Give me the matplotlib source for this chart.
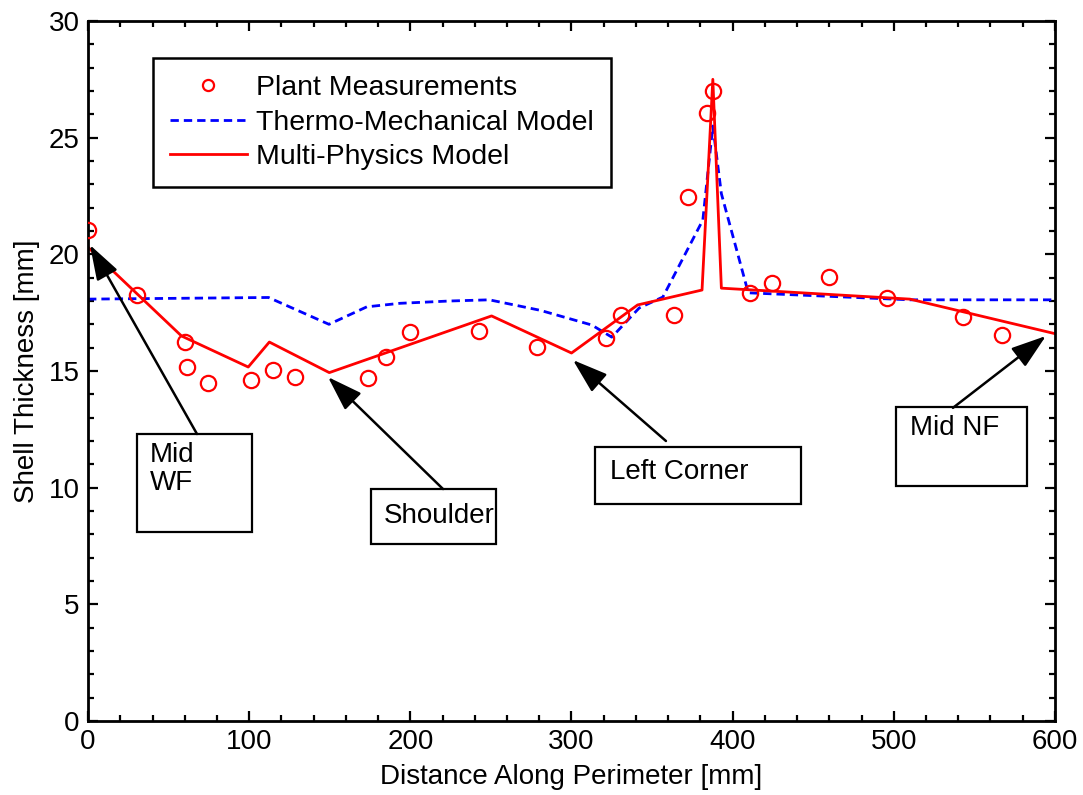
import matplotlib
matplotlib.use("Agg")
import matplotlib.pyplot as plt
from matplotlib.patches import Rectangle
from matplotlib.ticker import MultipleLocator

plt.rcParams["font.family"] = ["Liberation Sans", "DejaVu Sans"]

# Medições da planta
meas_x = [0, 30.4, 60.2, 61.2, 74.4, 101, 114.6, 128.4, 173.7, 185, 199.5, 242.3,
          278.5, 321.5, 330.5, 363.5, 372, 384, 387.7, 410.5, 424.2, 460, 495.5,
          542.8, 567]
meas_y = [21.05, 18.26, 16.24, 15.15, 14.47, 14.63, 15.04, 14.74, 14.7, 15.6, 16.69,
          16.7, 16.03, 16.4, 17.4, 17.38, 22.46, 26.05, 27.0, 18.35, 18.77, 19.03,
          18.13, 17.3, 16.55]

# Modelo termo-mecânico
tm_x = [0, 112, 149.5, 173, 193.5, 224.6, 249, 280.6, 312.6, 325, 342, 356.7,
        381.5, 387.7, 393, 409.7, 510, 600]
tm_y = [18.08, 18.15, 17.0, 17.75, 17.9, 18.0, 18.05, 17.6, 16.97, 16.45, 17.7,
        18.17, 21.47, 25.5, 22.6, 18.35, 18.05, 18.05]

# Modelo multi-física
mp_x = [0, 58, 99.4, 112.5, 149.7, 250.4, 300, 341, 381, 387.7, 393, 510, 600]
mp_y = [20.3, 16.5, 15.17, 16.24, 14.93, 17.36, 15.77, 17.83, 18.47, 27.5, 18.55,
        18.08, 16.6]

# Anotações: texto, ponta da seta, origem da seta, caixa (x0, y0, x1, y1)
ann_text = ["Mid\nWF", "Shoulder", "Left Corner", "Mid NF"]
ann_tip = [(1.2, 20.4), (148.9, 14.74), (300.9, 15.47), (594.4, 16.5)]
ann_from = [(67.6, 12.3), (220.3, 9.94), (358.6, 12.0), (536.7, 13.42)]
ann_box = [(30.4, 8.1, 101.8, 12.3), (175.6, 7.59, 253.2, 9.94),
           (314.6, 9.3, 442.4, 11.74), (501.3, 10.07, 582.6, 13.46)]
ann_txt_pos = [(38.5, 11.95, "top"), (183.7, 8.8, "center"),
               (323.9, 10.65, "center"), (510.0, 12.55, "center")]

fig = plt.figure(figsize=(10.83, 7.95), dpi=100)
ax = fig.add_axes([0.0813, 0.0931, 0.8928, 0.8805])

ax.plot(meas_x, meas_y, "o", color="red", mfc="none", ms=11, mew=1.6,
        label="Plant Measurements", zorder=3)
ax.plot(tm_x, tm_y, color="blue", ls=(0, (3, 1.8)), lw=2.0,
        label="Thermo-Mechanical Model", zorder=2)
ax.plot(mp_x, mp_y, color="red", lw=2.0, label="Multi-Physics Model", zorder=2)

for i in range(len(ann_text)):
    x0, y0, x1, y1 = ann_box[i]
    ax.add_patch(Rectangle((x0, y0), x1 - x0, y1 - y0, fill=False,
                           ec="black", lw=1.6, zorder=4))
    tx, ty, va = ann_txt_pos[i]
    ax.text(tx, ty, ann_text[i], fontsize=20, ha="left", va=va,
            linespacing=1.1, zorder=5)
    ax.annotate("", xy=ann_tip[i], xytext=ann_from[i],
                arrowprops=dict(arrowstyle="-|>,head_length=0.9,head_width=0.3",
                                mutation_scale=24, lw=1.8, color="black",
                                shrinkA=0, shrinkB=0), zorder=5)

ax.set_xlim(0, 600)
ax.set_ylim(0, 30)
ax.xaxis.set_major_locator(MultipleLocator(100))
ax.xaxis.set_minor_locator(MultipleLocator(20))
ax.yaxis.set_major_locator(MultipleLocator(5))
ax.yaxis.set_minor_locator(MultipleLocator(1))
ax.tick_params(which="both", direction="in", top=True, right=True,
               labelsize=20, width=1.6, pad=6)
ax.tick_params(which="major", length=7)
ax.tick_params(which="minor", length=4)
for s in ax.spines.values():
    s.set_linewidth(2)

ax.set_xlabel("Distance Along Perimeter [mm]", fontsize=20, labelpad=6)
ax.set_ylabel("Shell Thickness [mm]", fontsize=20, labelpad=6)

leg = ax.legend(loc="upper left", bbox_to_anchor=(0.067, 0.947), fontsize=20.5,
                frameon=True, fancybox=False, edgecolor="black", framealpha=1,
                handlelength=2.7, borderpad=0.6, labelspacing=0.3,
                handletextpad=0.32, borderaxespad=0)
leg.get_frame().set_linewidth(1.8)
for h in leg.legend_handles[:1]:
    h.set_markersize(8)

fig.savefig("out.png", dpi=100)
